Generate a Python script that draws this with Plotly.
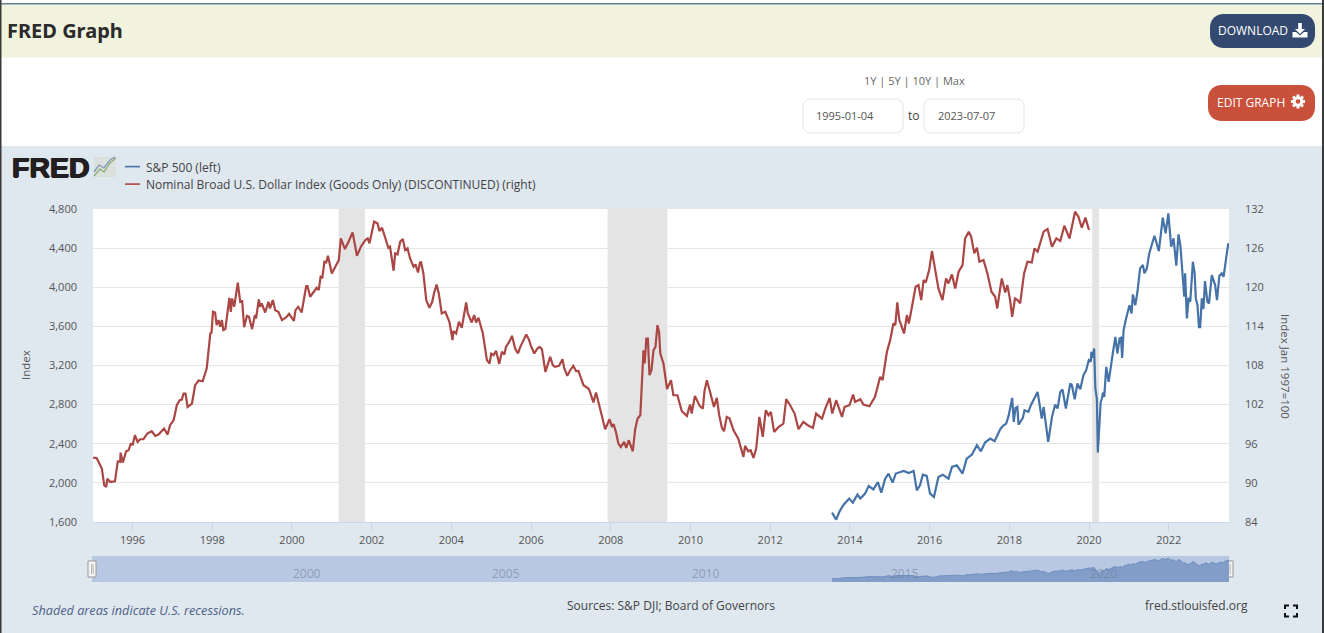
import math
import plotly.graph_objects as go

W, H = 1324, 633

# ---- data (decimal year, value) ----
usd_years = [1995.01,1995.02,1995.10,1995.17,1995.23,1995.29,1995.34,1995.37,1995.44,1995.56,1995.63,1995.69,1995.70,1995.755,1995.84,1995.90,1995.955,
1996.006,1996.06,1996.13,1996.19,1996.27,1996.37,1996.48,1996.57,1996.65,1996.79,1996.88,1996.94,1997.03,1997.11,1997.18,1997.235,1997.28,1997.33,1997.38,1997.49,1997.57,1997.66,1997.76,1997.86,1997.95,1997.98,
1998.02,1998.07,1998.11,1998.16,1998.20,1998.24,1998.28,1998.33,1998.43,1998.465,1998.50,1998.55,1998.64,1998.70,1998.75,1998.80,1998.87,1998.92,1999.0,1999.07,1999.10,1999.17,1999.20,1999.24,1999.33,1999.41,1999.45,1999.52,1999.58,1999.66,1999.75,1999.87,1999.93,
2000.05,2000.09,2000.16,2000.24,2000.355,2000.39,2000.456,2000.62,2000.67,2000.72,2000.76,2000.815,2000.86,2000.90,2001.0,2001.11,2001.175,2001.225,2001.27,2001.33,2001.42,2001.52,2001.63,2001.73,2001.84,2001.90,2001.945,
2002.0,2002.06,2002.145,2002.195,2002.26,2002.34,2002.42,2002.46,2002.505,2002.55,2002.59,2002.65,2002.715,2002.78,2002.84,2002.90,2002.965,2003.05,2003.10,2003.165,2003.215,
2003.24,2003.30,2003.37,2003.45,2003.52,2003.57,2003.63,2003.685,2003.76,2003.85,2003.95,2004.03,2004.05,2004.12,2004.19,2004.26,2004.37,2004.41,2004.51,2004.57,2004.62,2004.68,2004.72,2004.79,2004.89,2004.955,
2005.0,2005.06,2005.12,2005.20,2005.265,2005.33,2005.37,2005.46,2005.52,2005.60,2005.67,2005.73,2005.81,2005.88,2005.95,2005.99,2006.08,2006.16,2006.21,2006.27,2006.36,2006.41,2006.48,2006.545,2006.60,2006.70,2006.79,2006.83,2006.91,2006.98,
2007.06,2007.13,2007.19,2007.315,2007.44,2007.48,2007.565,2007.63,2007.69,2007.75,2007.86,2007.97,2008.03,2008.07,2008.13,2008.19,2008.25,2008.335,2008.385,2008.45,2008.55,2008.61,2008.67,2008.74,2008.78,2008.82,2008.85,2008.89,2008.93,2008.97,
2009.02,2009.07,2009.12,2009.17,2009.21,2009.24,2009.32,2009.41,2009.51,2009.57,2009.67,2009.78,2009.91,2009.99,2010.03,2010.11,2010.23,2010.31,2010.35,2010.41,2010.48,2010.59,2010.66,2010.72,2010.79,2010.84,2010.91,2010.98,2011.08,2011.20,2011.33,2011.37,2011.45,
2011.51,2011.58,2011.65,2011.73,2011.815,2011.89,2011.96,2012.02,2012.10,2012.21,2012.33,2012.40,2012.50,2012.61,2012.71,2012.83,2012.94,2013.07,2013.15,2013.30,2013.38,2013.49,2013.555,2013.655,2013.80,2013.865,2013.99,
2014.08,2014.13,2014.26,2014.34,2014.49,2014.63,2014.76,2014.82,2014.93,2015.01,2015.09,2015.14,2015.19,2015.24,2015.36,2015.43,2015.48,2015.57,2015.65,2015.72,2015.79,2015.85,2015.905,2015.99,2016.06,2016.12,2016.22,2016.32,2016.41,2016.47,2016.56,2016.64,2016.725,2016.825,2016.89,2016.98,
2017.04,2017.12,2017.185,2017.25,2017.35,2017.45,2017.55,2017.645,2017.695,2017.77,2017.81,2017.895,2017.95,2018.02,2018.07,2018.14,2018.205,2018.27,2018.37,2018.455,2018.565,2018.63,2018.71,2018.86,2018.96,2019.07,2019.18,2019.28,2019.38,2019.51,2019.65,2019.735,2019.82,2019.91,2020.0]
usd_values = [93.9,93.88,93.82,92.95,92.19,89.63,89.37,90.65,90.14,90.24,93.31,93.21,94.64,93.11,94.85,95.0,95.97,
95.87,97.30,96.28,96.69,96.69,97.56,97.92,97.20,97.41,98.33,97.41,98.84,99.61,101.91,102.68,102.78,103.70,103.70,101.65,102.17,104.98,105.70,105.59,107.54,112.91,113.01,
116.24,116.13,114.19,114.96,113.93,114.96,113.42,113.58,118.39,116.24,118.28,117.0,120.69,117.77,117.87,113.88,115.62,115.47,113.58,115.73,115.21,118.13,117.0,117.52,116.13,117.77,116.75,118.03,116.49,116.24,114.96,115.47,115.93,
114.86,116.49,117.0,116.13,120.18,120.18,118.54,119.92,119.56,121.76,121.35,123.91,123.81,124.83,122.12,123.40,124.17,127.49,126.73,125.86,126.98,128.42,124.83,126.22,127.24,127.49,126.73,
128.26,130.05,129.80,128.62,129.13,127.49,126.06,126.22,124.42,122.53,125.19,125.04,126.98,127.39,125.70,125.96,124.42,123.14,123.50,122.27,123.81,
123.81,122.12,118.03,116.85,117.77,119.20,120.43,119.05,115.98,116.24,114.70,111.89,113.27,112.91,114.70,113.78,117.67,115.98,114.60,115.73,114.60,115.32,114.45,112.91,108.82,108.31,
109.84,109.59,110.25,108.25,110.10,109.69,110.86,111.73,112.55,110.61,109.84,110.86,111.89,112.76,111.89,111.12,109.84,110.61,110.86,110.51,107.03,107.95,109.33,108.05,107.79,107.95,108.97,107.64,106.41,107.28,
107.95,107.13,107.18,104.98,104.47,103.96,102.32,103.85,102.42,100.63,98.23,99.76,98.58,99.04,97.82,96.03,95.51,96.28,95.36,96.54,94.85,98.23,99.86,100.37,107.03,110.35,108.31,112.14,112.14,106.51,
107.28,110.35,110.86,114.19,113.17,109.84,108.31,104.37,105.75,103.44,103.44,100.99,100.27,102.01,100.63,103.34,101.81,101.40,104.06,105.75,104.21,101.65,103.04,100.37,98.43,97.92,100.12,99.86,98.07,96.79,93.98,95.67,94.85,
95.0,93.82,95.26,100.12,97.05,101.14,100.37,100.89,97.82,98.58,99.09,102.83,101.91,100.63,98.23,99.35,98.84,98.43,100.63,99.86,101.40,103.04,100.63,102.68,100.12,101.65,101.91,
103.55,102.42,102.83,102.01,101.76,103.19,106.26,105.75,110.10,111.89,114.45,114.19,117.67,114.96,112.91,115.73,114.45,117.77,120.07,120.33,118.03,121.10,120.74,122.63,125.55,123.40,119.82,118.03,121.35,120.59,121.97,119.82,122.38,123.40,127.49,128.52,
127.75,125.19,126.06,123.91,124.17,122.12,119.31,118.54,116.75,119.82,121.35,119.20,120.33,118.03,115.47,118.28,118.03,117.52,122.12,123.91,123.81,125.96,125.45,128.52,128.93,126.22,127.49,127.08,129.44,127.49,131.59,130.82,129.13,130.67,128.77]

sp500_years = [2013.55,2013.655,2013.74,2013.84,2013.98,2014.07,2014.19,2014.26,2014.38,2014.47,2014.59,2014.70,2014.785,2014.885,2014.97,2015.07,2015.15,2015.35,2015.47,2015.60,2015.68,2015.76,2015.83,2015.93,2016.01,2016.11,2016.22,2016.33,2016.47,2016.56,2016.68,2016.825,2016.93,2017.06,2017.185,2017.285,2017.39,2017.52,2017.63,2017.77,
2017.84,2017.92,2017.98,2018.07,2018.11,2018.155,2018.20,2018.23,2018.34,2018.38,2018.48,2018.54,2018.71,2018.77,2018.815,2018.86,2018.91,2018.975,2019.07,2019.15,2019.21,2019.28,2019.335,2019.42,2019.53,2019.57,2019.64,2019.71,2019.78,2019.86,2019.93,2019.995,2020.045,2020.06,2020.095,2020.13,2020.16,2020.195,2020.22,2020.25,2020.29,2020.32,2020.35,2020.38,2020.43,2020.49,2020.55,2020.60,2020.66,2020.71,2020.765,2020.80,2020.83,2020.865,2020.93,
2021.015,2021.065,2021.10,2021.16,2021.215,2021.28,2021.35,2021.39,2021.45,2021.51,2021.64,2021.75,2021.85,2021.92,2021.99,2022.06,2022.12,2022.19,2022.245,2022.29,2022.35,2022.39,2022.41,2022.455,2022.50,2022.54,2022.605,2022.65,2022.68,2022.72,2022.76,2022.79,2022.83,2022.87,2022.91,2022.97,2023.01,2023.08,2023.165,2023.21,2023.27,2023.33,2023.375,2023.43,2023.46,2023.49,2023.515]
sp500_values = [1696,1624,1709,1777,1839,1798,1880,1839,1890,1968,1934,2009,1900,2043,2095,2003,2095,2122,2101,2122,1924,1975,2084,2071,1890,1856,2061,2084,2043,2163,2180,2095,2248,2289,2385,2323,2412,2453,2426,2548,
2583,2606,2685,2869,2623,2767,2777,2596,2664,2743,2726,2794,2930,2777,2658,2777,2640,2419,2675,2801,2760,2930,2954,2760,3016,2999,2855,3016,2958,3101,3152,3255,3238,3340,3278,3374,2965,2862,2310,2487,2828,2862,2924,2879,3186,3033,3220,3340,3493,3323,3476,3483,3278,3562,3681,
3817,3732,3927,3817,3954,4193,4227,4142,4193,4346,4527,4370,4711,4551,4756,4415,4500,4220,4541,4432,4125,3903,4142,3681,3893,3852,4261,4142,3886,3817,3592,3592,3886,3777,4063,3852,3835,4125,4022,3869,4118,4142,4107,4295,4397,4438,4445]

recession_start = [2001.17, 2007.92, 2020.08]
recession_end = [2001.83, 2009.42, 2020.25]

left_ticks = list(range(1600, 5200, 400))
right_ticks = list(range(84, 138, 6))
nav_years = [2000, 2005, 2010, 2015, 2020]

SERIES1 = "S&P 500 (left)"
SERIES2 = "Nominal Broad U.S. Dollar Index (Goods Only) (DISCONTINUED) (right)"


def iso(y):
    yr = int(y)
    doy = int(round((y - yr) * 365))
    m_len = [31, 28, 31, 30, 31, 30, 31, 31, 30, 31, 30, 31]
    m = 0
    while m < 11 and doy >= m_len[m]:
        doy -= m_len[m]
        m += 1
    return f"{yr}-{m + 1:02d}-{doy + 1:02d}"


# ---- layout geometry (page pixels) ----
PX0, PX1, PY0, PY1 = 93, 1229, 209, 522
NY0, NY1 = 556, 582
FONT = "Open Sans"
BG = "#dfe7ef"


def fx(x):
    return x / W


def fy(y):
    return 1 - y / H


shapes = []


def rect(x0, y0, x1, y1, fill, line=None, lw=0):
    shapes.append(dict(type="rect", xref="paper", yref="paper", layer="below", x0=fx(x0), x1=fx(x1), y0=fy(y0), y1=fy(y1),
                       fillcolor=fill, line=dict(color=line or fill, width=lw)))


def path(points, fill=None, line=None, lw=1, close=True, layer="below"):
    d = "M" + " L".join(f"{fx(a):.5f},{fy(b):.5f}" for a, b in points) + (" Z" if close else "")
    shapes.append(dict(type="path", xref="paper", yref="paper", layer=layer, path=d,
                       fillcolor=fill or "rgba(0,0,0,0)", line=dict(color=line or "rgba(0,0,0,0)", width=lw if line else 0)))


def rrect(x0, y0, x1, y1, r, fill, line=None, lw=0):
    pts = []
    corners = [(x1 - r, y0 + r, -90), (x1 - r, y1 - r, 0), (x0 + r, y1 - r, 90), (x0 + r, y0 + r, 180)]
    for cx, cy, a0 in corners:
        for k in range(7):
            a = math.radians(a0 + 15 * k)
            pts.append((cx + r * math.cos(a), cy + r * math.sin(a)))
    path(pts, fill=fill, line=line, lw=lw)


annotations = []


def text(s, x, y, size=12, color="#444", anchor="left", family=FONT, angle=0, xref=None):
    annotations.append(dict(text=s, x=x if xref else fx(x), y=fy(y), xref=xref or "paper", yref="paper",
                            xanchor=anchor, yanchor="middle", showarrow=False, textangle=angle,
                            font=dict(size=size, color=color, family=family), borderpad=0, borderwidth=0))


# page panels
rect(0, 0, W, H, "#ffffff")
rect(0, 5, W, 57.5, "#f1f3df")
rect(0, 146, W, H, BG)
rect(PX0, PY0, PX1, PY1, "#ffffff")
rect(92, NY0, PX1, NY1, "#b9c8e2")
rect(0, 3, W, 4.5, "#5d8089")
rect(0, 0, 1.5, H, "#3a3a3a")
rect(1322, 0, W, H, "#3a3a3a")

# recession bands sit above gridlines, under the lines
for a, b in zip(recession_start, recession_end):
    shapes.append(dict(type="rect", xref="x", yref="paper", layer="between", x0=iso(a), x1=iso(b),
                       y0=fy(PY1), y1=fy(PY0), fillcolor="#e4e4e4", line=dict(width=0)))

# header
text("<b>FRED Graph</b>", 7, 31, 20, "#2b2b2b", family="Noto Sans")
rrect(1210, 14, 1315, 48, 13, "#34496f")
text("DOWNLOAD", 1218, 30.5, 12, "#ffffff")
rect(1298.2, 23, 1301.8, 30, "#ffffff")
path([(1295, 29), (1305, 29), (1300, 34)], fill="#ffffff")
path([(1292.5, 32), (1296, 32), (1300, 35.5), (1304, 32), (1307.5, 32), (1307.5, 37.5), (1292.5, 37.5)], fill="#ffffff")

rrect(1208, 85, 1315, 121, 13, "#c9503a")
text("EDIT GRAPH", 1217, 102.5, 12, "#ffffff")
gear = []
for i in range(8):
    a = i * math.pi / 4
    for da, r in [(-0.3, 5.2), (-0.2, 7.2), (0.2, 7.2), (0.3, 5.2)]:
        gear.append((1298 + r * math.cos(a + da), 101.5 + r * math.sin(a + da)))
path(gear, fill="#ffffff")
shapes.append(dict(type="circle", xref="paper", yref="paper", layer="below", x0=fx(1295.7), x1=fx(1300.3), y0=fy(103.8), y1=fy(99.2),
                   fillcolor="#c9503a", line=dict(width=0)))

# date range controls
text("1Y | 5Y | 10Y | Max", 914, 80, 11, "#666", "center")
rrect(803, 99, 903, 133, 7, "#ffffff", "#e4e4e4", 1)
rrect(924, 99, 1024, 133, 7, "#ffffff", "#e4e4e4", 1)
text("1995-01-04", 845, 116, 11, "#555", "center")
text("2023-07-07", 966, 116, 11, "#555", "center")
text("to", 914, 116, 12, "#444", "center")

# logo
text("<b>FRED</b>", 12, 167, 28.5, "#231f20", family="Liberation Sans")
annotations[-1]["font"]["shadow"] = "0.7px 0 0 #231f20, -0.7px 0 0 #231f20, 0 0.5px 0 #231f20, 0 -0.5px 0 #231f20"
rect(94, 157, 116, 177, "#dbe0dc")
path([(94, 176), (100, 169), (104, 172), (110, 163), (116, 158)], line="#8fae7c", lw=1.3, close=False)
path([(94, 172), (99, 165), (104, 168), (110, 160), (115, 157)], line="#8097b8", lw=1.3, close=False)

# legend
rect(125, 165.8, 140, 167.4, "#4572a7")
rect(125, 183.3, 140, 184.9, "#aa4643")
text(SERIES1, 145.5, 167, 12, "#444")
text(SERIES2, 145.5, 184, 12, "#444")

# axis titles
text("Index", 25, 365, 11.5, "#555", "center", angle=-90)
text("Index Jan 1997=100", 1286, 366, 11.5, "#555", "center", angle=90)

# navigator
for y in nav_years:
    text(str(y), iso(y), 573, 12, "rgba(110,125,150,0.6)", "left", xref="x2")
    annotations[-1]["xshift"] = 1
for x in (88, 1225):
    rect(x, 561, x + 8, 577, "#f4f4f4", "#999999", 1)
    rect(x + 3, 564, x + 3.6, 574, "#888888")
    rect(x + 4.8, 564, x + 5.4, 574, "#888888")

# footer
text("<i>Shaded areas indicate U.S. recessions.</i>", 32, 610, 12.7, "#4d6288")
text("Sources: S&P DJI; Board of Governors", 671, 605, 12, "#444", "center")
text("fred.stlouisfed.org", 1145, 605, 12, "#444")
for pts in ([(1285, 609), (1285, 605.5), (1289, 605.5)], [(1293, 605.5), (1297, 605.5), (1297, 609)],
            [(1285, 613), (1285, 616.5), (1289, 616.5)], [(1293, 616.5), (1297, 616.5), (1297, 613)]):
    path(pts, line="#111111", lw=2, close=False)

usd_dates = [iso(y) for y in usd_years]
sp500_dates = [iso(y) for y in sp500_years]

fig = go.Figure()
fig.add_trace(go.Scatter(x=usd_dates, y=usd_values, name=SERIES2, mode="lines", yaxis="y2", xaxis="x",
                         line=dict(color="#aa4643", width=2.2)))
fig.add_trace(go.Scatter(x=sp500_dates, y=sp500_values, name=SERIES1, mode="lines", yaxis="y", xaxis="x",
                         line=dict(color="#4572a7", width=2.2)))
fig.add_trace(go.Scatter(x=sp500_dates, y=sp500_values, name=SERIES1 + " navigator", mode="lines", yaxis="y3", xaxis="x2",
                         fill="tozeroy", fillcolor="#839dc9", line=dict(color="#6f8fc0", width=1)))

xrange_ = ["1995-01-04", "2023-07-07"]
tick_font = dict(family=FONT, size=11, color="#555")
fig.update_layout(
    width=W, height=H, autosize=False, showlegend=False,
    margin=dict(l=0, r=0, t=0, b=0, pad=0, autoexpand=False),
    paper_bgcolor="#ffffff", plot_bgcolor="rgba(0,0,0,0)",
    font=dict(family=FONT),
    shapes=shapes, annotations=annotations,
    xaxis=dict(domain=[fx(PX0), fx(PX1)], range=xrange_, anchor="y", type="date", tick0="1996-01-01", dtick="M24",
               tickformat="%Y", showgrid=False, zeroline=False, showline=True, linecolor="#ccd6eb", linewidth=1,
               ticks="outside", ticklen=8, tickcolor="#ccd6eb", tickwidth=1, tickfont=tick_font),
    yaxis=dict(domain=[fy(PY1), fy(PY0)], range=[1600, 4800], anchor="x", tickvals=left_ticks, tickformat=",",
               showgrid=True, gridcolor="#e6e6e6", gridwidth=1, zeroline=False, showline=False, ticks="",
               ticklabelstandoff=15, tickfont=tick_font),
    yaxis2=dict(domain=[fy(PY1), fy(PY0)], range=[84, 132], anchor="x", overlaying="y", side="right", tickvals=right_ticks,
                showgrid=False, zeroline=False, showline=False, ticks="", ticklabelstandoff=15, tickfont=tick_font),
    xaxis2=dict(domain=[fx(PX0), fx(PX1)], range=xrange_, anchor="y3", type="date", visible=False),
    yaxis3=dict(domain=[fy(NY1), fy(NY0)], range=[1150, 5070], anchor="x2", visible=False),
)

fig.write_html("out.html", config={"displayModeBar": False},
               post_script="document.body.style.margin='0';document.body.style.overflow='hidden';")
